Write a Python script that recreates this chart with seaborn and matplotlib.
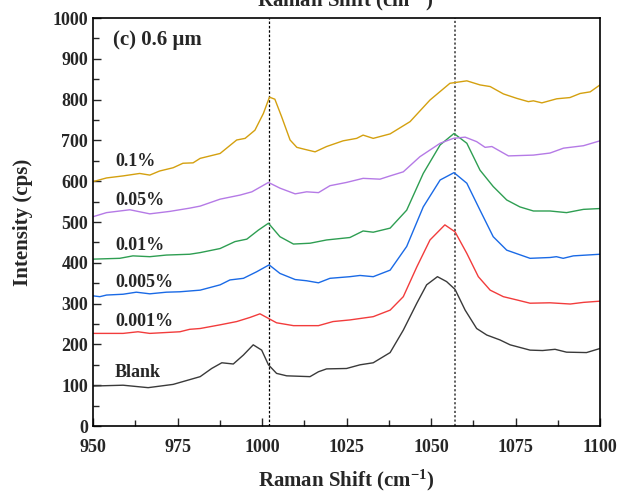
import matplotlib
matplotlib.use("Agg")
import matplotlib.pyplot as plt
import seaborn as sns
import pandas as pd
from matplotlib.ticker import MultipleLocator

sns.set_style("ticks")
plt.rcParams['font.family'] = ['Liberation Serif', 'DejaVu Serif']
plt.rcParams['font.weight'] = 'bold'
plt.rcParams['mathtext.fontset'] = 'custom'
plt.rcParams['mathtext.rm'] = 'Liberation Serif:bold'
plt.rcParams['mathtext.bf'] = 'Liberation Serif:bold'
plt.rcParams['mathtext.it'] = 'Liberation Serif:bold'

# ---- data ----
blank_x = [950, 958.9, 966.3, 973.7, 981.7, 985.1, 988.1, 991.5, 994.5, 997.4, 999.9, 1001.9, 1004.3, 1007.3,
           1014.2, 1016.7, 1019.1, 1025, 1029, 1032.9, 1037.9, 1041.8, 1045.8, 1048.7, 1051.9, 1054.6, 1057.1,
           1060.1, 1063.5, 1066.5, 1070.4, 1073.4, 1079.3, 1083, 1086.7, 1090.1, 1096, 1100]
blank_y = [98, 100, 94, 102, 121, 141, 155, 152, 174, 199, 186, 150, 129, 123,
           121, 133, 140, 141, 150, 155, 180, 235, 301, 346, 366, 354, 335,
           284, 239, 223, 211, 199, 186, 185, 188, 181, 180, 190]

p001_x = [950, 958.9, 963.3, 966.8, 975.7, 978.6, 981.7, 987.6, 992.5, 996.4, 999.4, 1001.4, 1004.3, 1009.3,
          1016.7, 1021, 1026, 1032.9, 1037.9, 1041.8, 1045.8, 1049.7, 1054.1, 1057.1, 1060.6, 1064, 1067.5,
          1071.4, 1075.4, 1079.3, 1085.2, 1091.2, 1095.1, 1100]
p001_y = [227, 227, 231, 227, 231, 237, 239, 248, 256, 266, 275, 266, 253, 246,
          246, 256, 260, 268, 284, 317, 390, 456, 493, 476, 423, 366, 333,
          317, 309, 301, 302, 299, 303, 306]

p005_x = [950, 952, 954, 958.9, 962.8, 966.8, 971.7, 975.7, 981.7, 987.6, 990.5, 994.5, 998.4, 1002.1, 1005.3,
          1009.8, 1013.2, 1016.7, 1020.1, 1026, 1029, 1032.9, 1037.9, 1042.8, 1047.7, 1052.7, 1056.8, 1060.6,
          1064.5, 1068.4, 1072.4, 1079.3, 1085.2, 1087.1, 1089.1, 1092.1, 1100]
p005_y = [319, 317, 321, 323, 328, 324, 328, 329, 333, 346, 358, 362, 378, 395, 374,
          359, 356, 351, 362, 366, 369, 366, 382, 440, 537, 603, 621, 595,
          529, 464, 431, 411, 413, 415, 411, 417, 421]

p01_x = [950, 957.9, 961.8, 966.8, 971.7, 978.6, 981.7, 987.6, 992, 995.5, 998.9, 1001.9, 1005.3, 1009.3,
         1014.2, 1019.1, 1026, 1029.9, 1032.9, 1037.9, 1042.8, 1047.7, 1052.7, 1056.8, 1060.6, 1064.5, 1068.4,
         1072.4, 1076.3, 1080.3, 1085.2, 1090.1, 1095.1, 1100]
p01_y = [409, 411, 417, 415, 419, 421, 425, 435, 452, 458, 480, 497, 464, 446,
         448, 456, 462, 478, 475, 485, 529, 619, 689, 717, 693, 627, 587,
         554, 537, 527, 527, 523, 531, 533]

p05_x = [950, 954, 960.9, 966.8, 972.7, 978.6, 981.7, 987.6, 993.5, 997, 1001.9, 1005.3, 1009.8, 1013.2,
         1016.7, 1020.1, 1025, 1029.9, 1034.9, 1037.9, 1041.8, 1046.7, 1052.7, 1056.6, 1060.1, 1063.5, 1066,
         1068, 1072.9, 1080.3, 1085.2, 1089.2, 1095.1, 1100]
p05_y = [513, 523, 530, 520, 526, 534, 539, 556, 566, 574, 597, 583, 569, 574,
         572, 589, 597, 607, 605, 613, 623, 660, 693, 705, 708, 697, 683,
         685, 662, 664, 669, 681, 687, 699]

p1_x = [950, 954, 958.9, 963.8, 966.8, 969.7, 973.7, 976.6, 979.6, 981.7, 987.6, 992.5, 995, 997.9, 1000.4,
        1002.2, 1003.8, 1005.8, 1008.3, 1010.3, 1012.7, 1015.7, 1019.1, 1024, 1028, 1029.9, 1032.9, 1037.9,
        1043.8, 1049.7, 1055.6, 1060.6, 1064.5, 1067.5, 1071.4, 1075.4, 1078.8, 1080.3, 1082.8, 1087.2,
        1091.1, 1094.1, 1097.1, 1100]
p1_y = [599, 608, 613, 619, 615, 625, 633, 644, 645, 656, 668, 701, 705, 725, 766,
        806, 801, 758, 701, 683, 678, 672, 685, 699, 705, 713, 705, 716,
        746, 799, 840, 846, 836, 832, 814, 803, 795, 797, 792, 802,
        805, 815, 819, 836]

series_names = ["Blank", "0.001%", "0.005%", "0.01%", "0.05%", "0.1%"]
series_x = [blank_x, p001_x, p005_x, p01_x, p05_x, p1_x]
series_y = [blank_y, p001_y, p005_y, p01_y, p05_y, p1_y]
colors = ["#3a3a3a", "#f23c3c", "#1a6ae6", "#2e9e52", "#b57ae6", "#d4a00f"]
label_pos_y = [131, 255, 351, 442, 552, 648]
ref_lines = [1002, 1057]

frames = []
for n, xs, ys in zip(series_names, series_x, series_y):
    frames.append(pd.DataFrame({"x": xs, "y": ys, "s": n}))
df = pd.concat(frames, ignore_index=True)

fig = plt.figure(figsize=(6.21, 4.96), dpi=100)
ax = fig.add_axes([0.1498, 0.1411, 0.8164, 0.8226])

sns.lineplot(data=df, x="x", y="y", hue="s", palette=dict(zip(series_names, colors)),
             sort=False, estimator=None, linewidth=1.0, legend=False, ax=ax)

ax.axvline(ref_lines[0], color="black", linestyle=(0, (2, 1.5)), linewidth=0.9, zorder=0)
ax.axvline(ref_lines[1], color="#555555", linestyle=(0, (1.2, 1.2)), linewidth=1.3, zorder=0)

for n, yv in zip(series_names, label_pos_y):
    ax.text(956.5, yv, n, fontsize=13, fontweight="bold", va="center", ha="left")

ax.text(956.0, 946, "(c) 0.6 μm", fontsize=15, fontweight="bold", va="center", ha="left")

ax.set_xlim(950, 1100)
ax.set_ylim(0, 1000)
ax.xaxis.set_major_locator(MultipleLocator(25))
ax.xaxis.set_minor_locator(MultipleLocator(12.5))
ax.yaxis.set_major_locator(MultipleLocator(100))
ax.yaxis.set_minor_locator(MultipleLocator(50))
ax.tick_params(which="both", direction="in", top=False, right=False, labelsize=13, width=1.0)
ax.tick_params(axis="x", which="both", pad=9)
ax.tick_params(which="major", length=6)
ax.tick_params(which="minor", length=4)
for lab in ax.get_xticklabels() + ax.get_yticklabels():
    lab.set_fontweight("bold")
for sp in ax.spines.values():
    sp.set_linewidth(1.2)
    sp.set_color("black")

ax.set_xlabel("Raman Shift (cm$^{-1}$)", fontsize=15, fontweight="bold", labelpad=9)
ax.set_ylabel("Intensity (cps)", fontsize=15, fontweight="bold", labelpad=14)

# cut-off top axis title
fig.text(0.555, 1.0, "Raman Shift (cm$^{-1}$)", fontsize=15, fontweight="bold", ha="center", va="center")

fig.savefig("out.png", dpi=100)
